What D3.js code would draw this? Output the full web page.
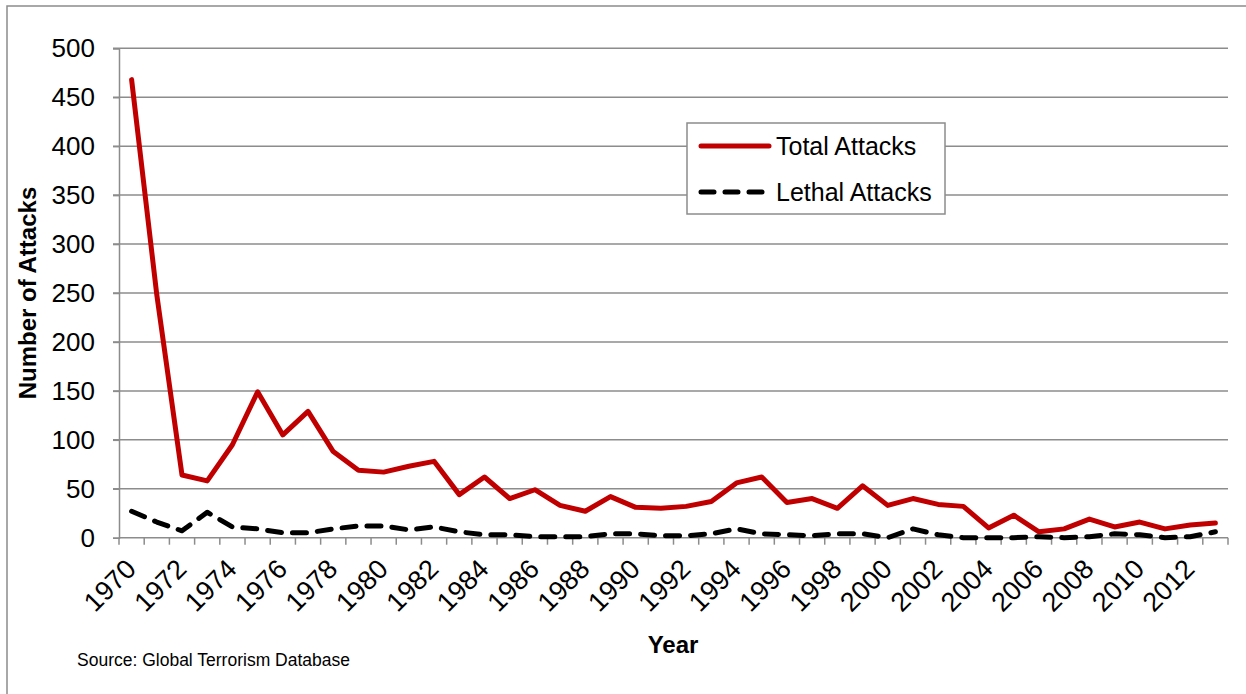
<!DOCTYPE html>
<html>
<head>
<meta charset="utf-8">
<script src="https://cdn.jsdelivr.net/npm/d3@7"></script>
<style>
  body { margin: 0; background: #fff; }
  text { font-family: "Liberation Sans", Arial, sans-serif; fill: #000; }
</style>
</head>
<body>
<div id="chart"></div>
<script>
// data
var years = d3.range(1970, 2014);
var totalAttacks = [468, 248, 64, 58, 95, 149, 105, 129, 88, 69, 67, 73, 78, 44, 62,
                    40, 49, 33, 27, 42, 31, 30, 32, 37, 56, 62, 36, 40, 30, 53,
                    33, 40, 34, 32, 10, 23, 6, 9, 19, 11, 16, 9, 13, 15];
var lethalAttacks = [27, 16, 7, 26, 11, 9, 5, 5, 9, 12, 12, 8, 11, 6, 3,
                     3, 1, 1, 1, 4, 4, 2, 2, 4, 9, 4, 3, 2, 4, 4,
                     0, 9, 3, 0, 0, 0, 1, 0, 1, 4, 3, 0, 1, 6];
var yTicks = [0, 50, 100, 150, 200, 250, 300, 350, 400, 450, 500];

var WIDTH = 1246, HEIGHT = 694;
var plotLeft = 119, plotRight = 1228, plotTop = 48.3, plotBottom = 537.7;

var svg = d3.select("#chart").append("svg")
    .attr("width", WIDTH)
    .attr("height", HEIGHT);

// outer frame (only left and top edges show)
svg.append("rect")
    .attr("x", 7).attr("y", 6)
    .attr("width", WIDTH + 20).attr("height", HEIGHT + 20)
    .attr("fill", "none").attr("stroke", "#8c8c8c").attr("stroke-width", 1.5);

var x = d3.scaleBand().domain(years).range([plotLeft, plotRight]);
var y = d3.scaleLinear().domain([0, 500]).range([plotBottom, plotTop]);

// horizontal gridlines
svg.append("g").selectAll("line")
    .data(yTicks.filter(function(d) { return d > 0; }))
    .enter().append("line")
    .attr("x1", plotLeft - 6).attr("x2", plotRight)
    .attr("y1", function(d) { return y(d); })
    .attr("y2", function(d) { return y(d); })
    .attr("stroke", "#8c8c8c").attr("stroke-width", 1.5);

// y axis
var yAxis = svg.append("g")
    .attr("transform", "translate(" + plotLeft + ",0)")
    .call(d3.axisLeft(y).tickValues(yTicks).tickSize(6).tickPadding(18));
yAxis.select(".domain").attr("stroke", "#8c8c8c").attr("stroke-width", 1.5);
yAxis.selectAll(".tick line").attr("stroke", "#8c8c8c").attr("stroke-width", 1.5);
yAxis.selectAll("text")
    .attr("font-size", 26).attr("fill", "#000")
    .style("font-family", "Liberation Sans, Arial, sans-serif");

// x axis: ticks at category boundaries
var xAxisG = svg.append("g");
xAxisG.append("line")
    .attr("x1", plotLeft).attr("x2", plotRight)
    .attr("y1", plotBottom).attr("y2", plotBottom)
    .attr("stroke", "#8c8c8c").attr("stroke-width", 1.5);
xAxisG.selectAll("line.tk")
    .data(years.concat([2014]))
    .enter().append("line")
    .attr("class", "tk")
    .attr("x1", function(d) { return d === 2014 ? plotRight : x(d); })
    .attr("x2", function(d) { return d === 2014 ? plotRight : x(d); })
    .attr("y1", plotBottom).attr("y2", plotBottom + 7)
    .attr("stroke", "#8c8c8c").attr("stroke-width", 1.5);

// rotated year labels, every second year
xAxisG.selectAll("text")
    .data(years.filter(function(d) { return d % 2 === 0; }))
    .enter().append("text")
    .attr("transform", function(d) {
        return "translate(" + (x(d) + x.bandwidth() / 2 + 6) + "," + (plotBottom + 33) + ") rotate(-45)";
    })
    .attr("text-anchor", "end")
    .attr("font-size", 27)
    .text(function(d) { return d; });

// lines
var line = function(vals) {
    return d3.line()
        .x(function(d, i) { return x(years[i]) + x.bandwidth() / 2; })
        .y(function(d) { return y(d); })(vals);
};

svg.append("path")
    .attr("d", line(lethalAttacks))
    .attr("fill", "none").attr("stroke", "#000").attr("stroke-width", 5)
    .attr("stroke-dasharray", "14,11").attr("stroke-linecap", "round")
    .attr("stroke-linejoin", "round");

svg.append("path")
    .attr("d", line(totalAttacks))
    .attr("fill", "none").attr("stroke", "#c00000").attr("stroke-width", 5)
    .attr("stroke-linecap", "round").attr("stroke-linejoin", "round");

// axis titles
svg.append("text")
    .attr("transform", "translate(36,293) rotate(-90)")
    .attr("text-anchor", "middle")
    .attr("font-size", 24).attr("font-weight", "bold")
    .text("Number of Attacks");

svg.append("text")
    .attr("x", 673).attr("y", 653)
    .attr("text-anchor", "middle")
    .attr("font-size", 24).attr("font-weight", "bold")
    .text("Year");

svg.append("text")
    .attr("x", 77).attr("y", 666)
    .attr("font-size", 17.5)
    .text("Source: Global Terrorism Database");

// legend
var legend = svg.append("g");
legend.append("rect")
    .attr("x", 687).attr("y", 123).attr("width", 258).attr("height", 91)
    .attr("fill", "#fff").attr("stroke", "#8c8c8c").attr("stroke-width", 1.5);
legend.append("line")
    .attr("x1", 701).attr("x2", 769).attr("y1", 146).attr("y2", 146)
    .attr("stroke", "#c00000").attr("stroke-width", 5).attr("stroke-linecap", "round");
legend.append("line")
    .attr("x1", 701).attr("x2", 763).attr("y1", 192).attr("y2", 192)
    .attr("stroke", "#000").attr("stroke-width", 5)
    .attr("stroke-dasharray", "13,11").attr("stroke-linecap", "round");
legend.append("text")
    .attr("x", 776).attr("y", 155).attr("font-size", 25)
    .text("Total Attacks");
legend.append("text")
    .attr("x", 776).attr("y", 201).attr("font-size", 25)
    .text("Lethal Attacks");
</script>
</body>
</html>
